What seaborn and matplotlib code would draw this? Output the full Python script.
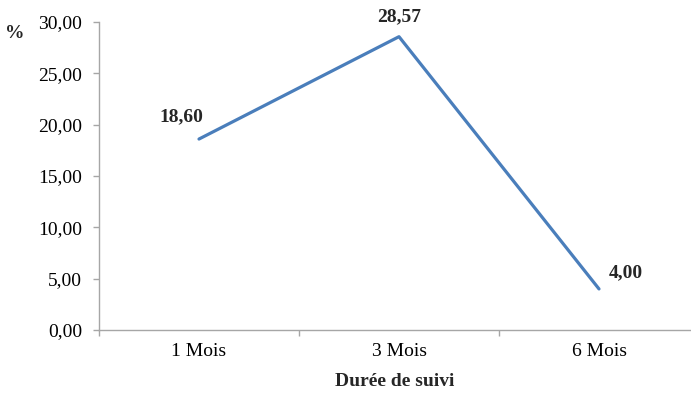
import matplotlib
matplotlib.use("Agg")
import matplotlib.pyplot as plt
from matplotlib.ticker import FuncFormatter, FixedLocator
import seaborn as sns
import pandas as pd

# Follow-up durations and percentages
durees = ["1 Mois", "3 Mois", "6 Mois"]
pourcentages = [18.60, 28.57, 4.00]
y_ticks = [0, 5, 10, 15, 20, 25, 30]

sns.set_theme(style="white")
plt.rcParams["font.family"] = ["Liberation Serif", "DejaVu Serif"]

df = pd.DataFrame({"duree": durees, "pct": pourcentages})

fig = plt.figure(figsize=(6.91, 3.95), dpi=100)
ax = fig.add_axes([99 / 691, 65 / 395, 1 - 99 / 691, 308 / 395])

sns.lineplot(data=df, x="duree", y="pct", ax=ax, color="#4A7EBB",
             linewidth=2.3, sort=False)

ax.set_ylim(0, 30)
ax.set_xlim(-0.5, -0.5 + 592 / 200)

grey = "#A6A6A6"
for side in ["top", "right"]:
    ax.spines[side].set_visible(False)
for side in ["left", "bottom"]:
    ax.spines[side].set_color(grey)
    ax.spines[side].set_linewidth(1.0)

# y axis: comma decimal labels
ax.yaxis.set_major_locator(FixedLocator(y_ticks))
ax.yaxis.set_major_formatter(FuncFormatter(lambda v, p: f"{v:.2f}".replace(".", ",")))
ax.tick_params(axis="y", which="major", direction="out", length=4, width=1,
               color=grey, pad=8, labelsize=14, left=True, labelcolor="#000000")

# x axis: tick marks between categories, labels at category centres
ax.xaxis.set_major_locator(FixedLocator([-0.5, 0.5, 1.5, 2.5]))
ax.xaxis.set_major_formatter(FuncFormatter(lambda v, p: ""))
ax.xaxis.set_minor_locator(FixedLocator([0, 1, 2]))
ax.set_xticks([0, 1, 2], labels=durees, minor=True)
ax.tick_params(axis="x", which="major", direction="out", length=4, width=1,
               color=grey, bottom=True)
ax.tick_params(axis="x", which="minor", length=0, pad=9, labelsize=14,
               labelcolor="#000000")

ax.set_xlabel("Durée de suivi", fontsize=14, fontweight="bold", labelpad=10)
ax.set_ylabel("")
ax.grid(False)

# value labels
offsets = [(-13, 16, "center"), (0, 14.5, "center"), (7, 12, "left")]
for i, (v, (dx, dy, ha)) in enumerate(zip(pourcentages, offsets)):
    ax.annotate(f"{v:.2f}".replace(".", ","), (i, v), xytext=(dx, dy),
                textcoords="offset points", ha=ha, va="center",
                fontsize=14, fontweight="bold", annotation_clip=False)

fig.text(15 / 691, 1 - 33 / 395, "%", fontsize=14, fontweight="bold",
         ha="center", va="center")

fig.savefig("out.png", dpi=100)
